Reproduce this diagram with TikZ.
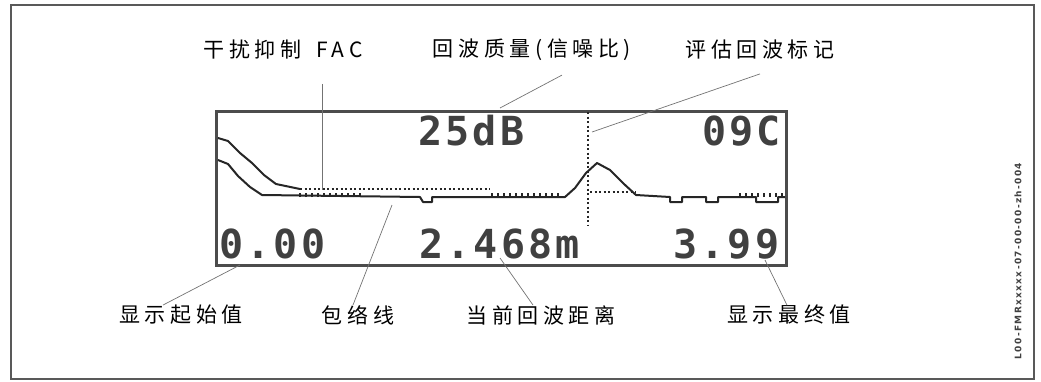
\documentclass[tikz,border=0pt]{standalone}
\usepackage{fontspec}
\newfontfamily\cjk[LetterSpace=22]{Noto Sans CJK SC}
\newfontfamily\lcd[LetterSpace=8]{DejaVu Sans Mono}
\newfontfamily\idfont[LetterSpace=15]{DejaVu Sans}
\begin{document}
\begin{tikzpicture}[x=1pt, y=-1pt,
    callout/.style={font=\cjk\fontsize{21}{21}\selectfont, inner sep=0pt},
    readout/.style={font=\lcd\bfseries\fontsize{40}{40}\selectfont, text=black!75,
                    inner sep=0pt, anchor=base west},
    leader/.style={draw=black!55, line width=0.7pt},
    trace/.style={line width=2pt, black!85, line join=round},
    fac/.style={trace, line width=2.5pt, dash pattern=on 2pt off 2.5pt}
]
    \useasboundingbox (0,0) rectangle (1041,381);
    \draw[black!65, line width=2.5pt] (11,5) rectangle (1034,379);

    % display window
    \draw[black!70, line width=3pt] (216,111) rectangle (786,265);
    \node[readout] (snrval) at (418,145) {25dB};
    \node[readout] (temp) at (702,145) {09C};
    \node[readout] (startnum) at (219,258) {0.00};
    \node[readout] (distnum) at (419,258) {2.468m};
    \node[readout] (endnum) at (673,258) {3.99};

    % echo curve
    \draw[trace] (218,160) -- (228,164) -- (238,176) -- (250,187) -- (262,195)
        -- (420,197) -- (423,202) -- (432,202) -- (432,197) -- (565,197)
        -- (575,188) -- (586,173) -- (597,163) -- (610,170) -- (624,184) -- (636,195)
        -- (670,197) -- (670,202) -- (682,202) -- (682,197) -- (706,197) -- (706,202)
        -- (718,202) -- (718,197) -- (756,197) -- (756,202) -- (778,202) -- (778,197)
        -- (785,197);
    \foreach \x in {300,306,...,364}
        \draw[trace, line width=1.5pt] (\x,197) -- (\x,193);
    \foreach \x in {492,498,...,560}
        \draw[trace, line width=1.5pt] (\x,197) -- (\x,193);
    \foreach \x in {740,746,...,784}
        \draw[trace, line width=1.5pt] (\x,197) -- (\x,193);

    % FAC curve
    \draw[trace] (218,138) -- (228,141) -- (240,153) -- (252,163) -- (264,175)
        -- (276,184) -- (300,189);
    \draw[fac] (300,189) -- (490,189);
    \draw[fac] (590,192) -- (636,192);

    % evaluated echo marker
    \draw[fac] (588,112) -- (588,226);

    % callouts
    \node[callout] (fac) at (283,50) {干扰抑制\hspace{6pt} FAC};
    \node[callout] (snr) at (532,50) {回波质量(信噪比)};
    \node[callout] (mark) at (760,50) {评估回波标记};
    \node[callout] (startval) at (181,315) {显示起始值};
    \node[callout] (env) at (358,315) {包络线};
    \node[callout] (dist) at (541,315) {当前回波距离};
    \node[callout] (endval) at (789,315) {显示最终值};

    \coordinate (facpt) at (322,190);
    \coordinate (snrpt) at (500,108);
    \coordinate (markpt) at (592,132);
    \coordinate (startpt) at (240,265);
    \coordinate (envpt) at (392,205);
    \coordinate (distpt) at (500,258);
    \coordinate (endpt) at (765,260);

    \draw[leader, shorten <=24pt] (fac.south -| facpt) -- (facpt);
    \draw[leader] ([xshift=30pt, yshift=-14pt]snr.south) -- (snrpt);
    \draw[leader] ([yshift=-14pt]mark.south) -- (markpt);
    \draw[leader] ([xshift=-18pt]startval.north) -- (startpt);
    \draw[leader] ([xshift=-5pt]env.north) -- (envpt);
    \draw[leader] ([xshift=-8pt]dist.north) -- (distpt);
    \draw[leader] ([xshift=-2pt]endval.north) -- (endpt);

    \node[font=\idfont\bfseries\fontsize{9}{9}\selectfont, text=black!75,
          rotate=90, inner sep=0pt] (docid) at (1018,261) {L00-FMRxxxxx-07-00-00-zh-004};
\end{tikzpicture}
\end{document}
